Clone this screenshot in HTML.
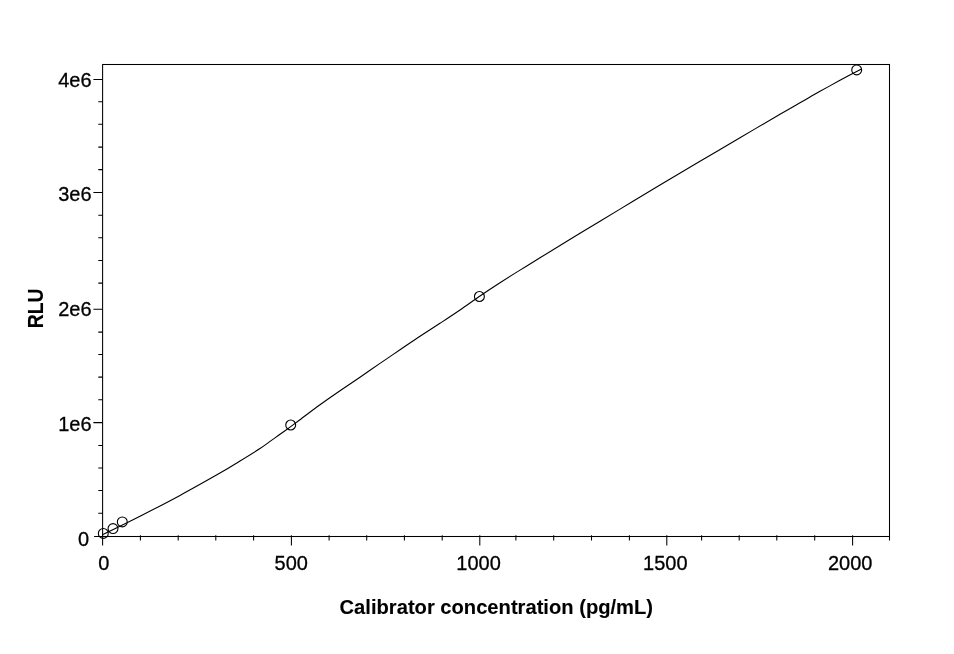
<!DOCTYPE html>
<html><head><meta charset="utf-8"><title>Calibration curve</title>
<style>html,body{margin:0;padding:0;background:#fff;overflow:hidden}svg{display:block}text{font-family:"Liberation Sans",Arial,sans-serif;font-size:20px;fill:#000}.n{stroke:#000;stroke-width:.3px}.b{font-weight:bold;stroke:#000;stroke-width:.1px}.l{stroke:#000;stroke-width:1.05;fill:none}.c{stroke:#000;stroke-width:1.1;fill:none}</style></head><body>
<svg width="954" height="654" viewBox="0 0 954 654">
<rect width="954" height="654" fill="#fff"/>
<rect class="l" x="102.6" y="64.5" width="786.9" height="472.0"/>
<path class="l" d="M93.4,79.4H102.6M93.4,192.5H102.6M93.4,309.3H102.6M93.4,422.6H102.6M94.1,536.5H102.6M98.3,101.7H102.6M98.3,124.2H102.6M98.3,147.1H102.6M98.3,169.6H102.6M98.3,215.2H102.6M98.3,237.7H102.6M98.3,260.4H102.6M98.3,283.1H102.6M98.3,332.1H102.6M98.3,354.5H102.6M98.3,377.1H102.6M98.3,399.8H102.6M98.3,445.4H102.6M98.3,467.9H102.6M98.3,490.5H102.6M98.3,513.3H102.6M102.6,535.3V545.4M291.4,535.3V545.4M479.8,535.3V545.4M666.8,535.3V545.4M852.6,535.3V545.4M140.4,535.3V540.6M178.2,535.3V540.6M215.8,535.3V540.6M253.6,535.3V540.6M329.1,535.3V540.6M366.7,535.3V540.6M404.4,535.3V540.6M442.2,535.3V540.6M515.9,535.3V540.6M553.7,535.3V540.6M591.5,535.3V540.6M629.4,535.3V540.6M701.6,535.3V540.6M739.2,535.3V540.6M776.8,535.3V540.6M814.7,535.3V540.6M889.5,535.3V540.6"/>
<path class="c" d="M102.9,534.5C109.1,531.5 127.2,522.7 140.0,516.2C152.8,509.7 166.7,502.6 180.0,495.4C193.3,488.3 210.0,478.8 220.0,473.1C230.0,467.4 233.3,465.1 240.0,461.0C246.7,456.9 255.0,451.8 260.0,448.5C265.0,445.2 266.7,443.8 270.0,441.4C273.3,439.0 276.7,436.7 280.0,434.3C283.3,431.9 286.7,429.5 290.0,427.1C293.3,424.7 295.0,423.4 300.0,419.7C305.0,416.0 313.3,409.6 320.0,404.8C326.7,400.0 333.3,395.4 340.0,390.8C346.7,386.2 353.3,381.8 360.0,377.2C366.7,372.6 373.3,368.0 380.0,363.4C386.7,358.8 393.3,354.3 400.0,349.8C406.7,345.3 413.3,340.7 420.0,336.3C426.7,331.9 433.3,327.7 440.0,323.3C446.7,318.9 453.3,314.6 460.0,310.0C466.7,305.4 473.3,300.6 480.0,296.0C486.7,291.4 493.3,287.0 500.0,282.7C506.7,278.4 513.3,274.2 520.0,270.1C526.7,266.0 530.0,263.9 540.0,257.8C550.0,251.7 566.7,241.4 580.0,233.3C593.3,225.2 606.7,217.2 620.0,209.1C633.3,201.0 646.7,193.0 660.0,185.0C673.3,177.0 686.7,169.2 700.0,161.3C713.3,153.4 726.7,145.5 740.0,137.7C753.3,129.9 770.0,120.1 780.0,114.3C790.0,108.5 793.3,106.6 800.0,102.8C806.7,99.0 813.3,95.0 820.0,91.3C826.7,87.6 833.1,84.1 840.0,80.3C846.9,76.6 857.9,70.8 861.5,68.9"/>
<circle class="c" cx="103.3" cy="533.4" r="4.95"/>
<circle class="c" cx="113" cy="528.6" r="4.95"/>
<circle class="c" cx="122.3" cy="521.9" r="4.95"/>
<circle class="c" cx="290.7" cy="425.0" r="4.95"/>
<circle class="c" cx="479.4" cy="296.5" r="4.95"/>
<circle class="c" cx="856.7" cy="69.9" r="4.95"/>
<text class="n" transform="translate(91.6,86.70) scale(1,1.045)" text-anchor="end">4e6</text>
<text class="n" transform="translate(91.6,201.00) scale(1,1.045)" text-anchor="end">3e6</text>
<text class="n" transform="translate(91.6,315.80) scale(1,1.045)" text-anchor="end">2e6</text>
<text class="n" transform="translate(91.6,430.90) scale(1,1.045)" text-anchor="end">1e6</text>
<text class="n" transform="translate(89.2,545.90) scale(1,1.045)" text-anchor="end">0</text>
<text class="n" transform="translate(103.8,570.0) scale(1,1.045)" text-anchor="middle">0</text>
<text class="n" transform="translate(291.2,570.0) scale(1,1.045)" text-anchor="middle">500</text>
<text class="n" transform="translate(478.6,570.0) scale(1,1.045)" text-anchor="middle">1000</text>
<text class="n" transform="translate(665.3,570.0) scale(1,1.045)" text-anchor="middle">1500</text>
<text class="n" transform="translate(850.2,570.0) scale(1,1.045)" text-anchor="middle">2000</text>
<text class="b" transform="translate(496.3,613.8) scale(1.0086,1.02)" text-anchor="middle">Calibrator concentration (pg/mL)</text>
<text class="b" transform="translate(43.0,308.3) rotate(-90) scale(0.97,1.06)" text-anchor="middle">RLU</text>
</svg></body></html>
